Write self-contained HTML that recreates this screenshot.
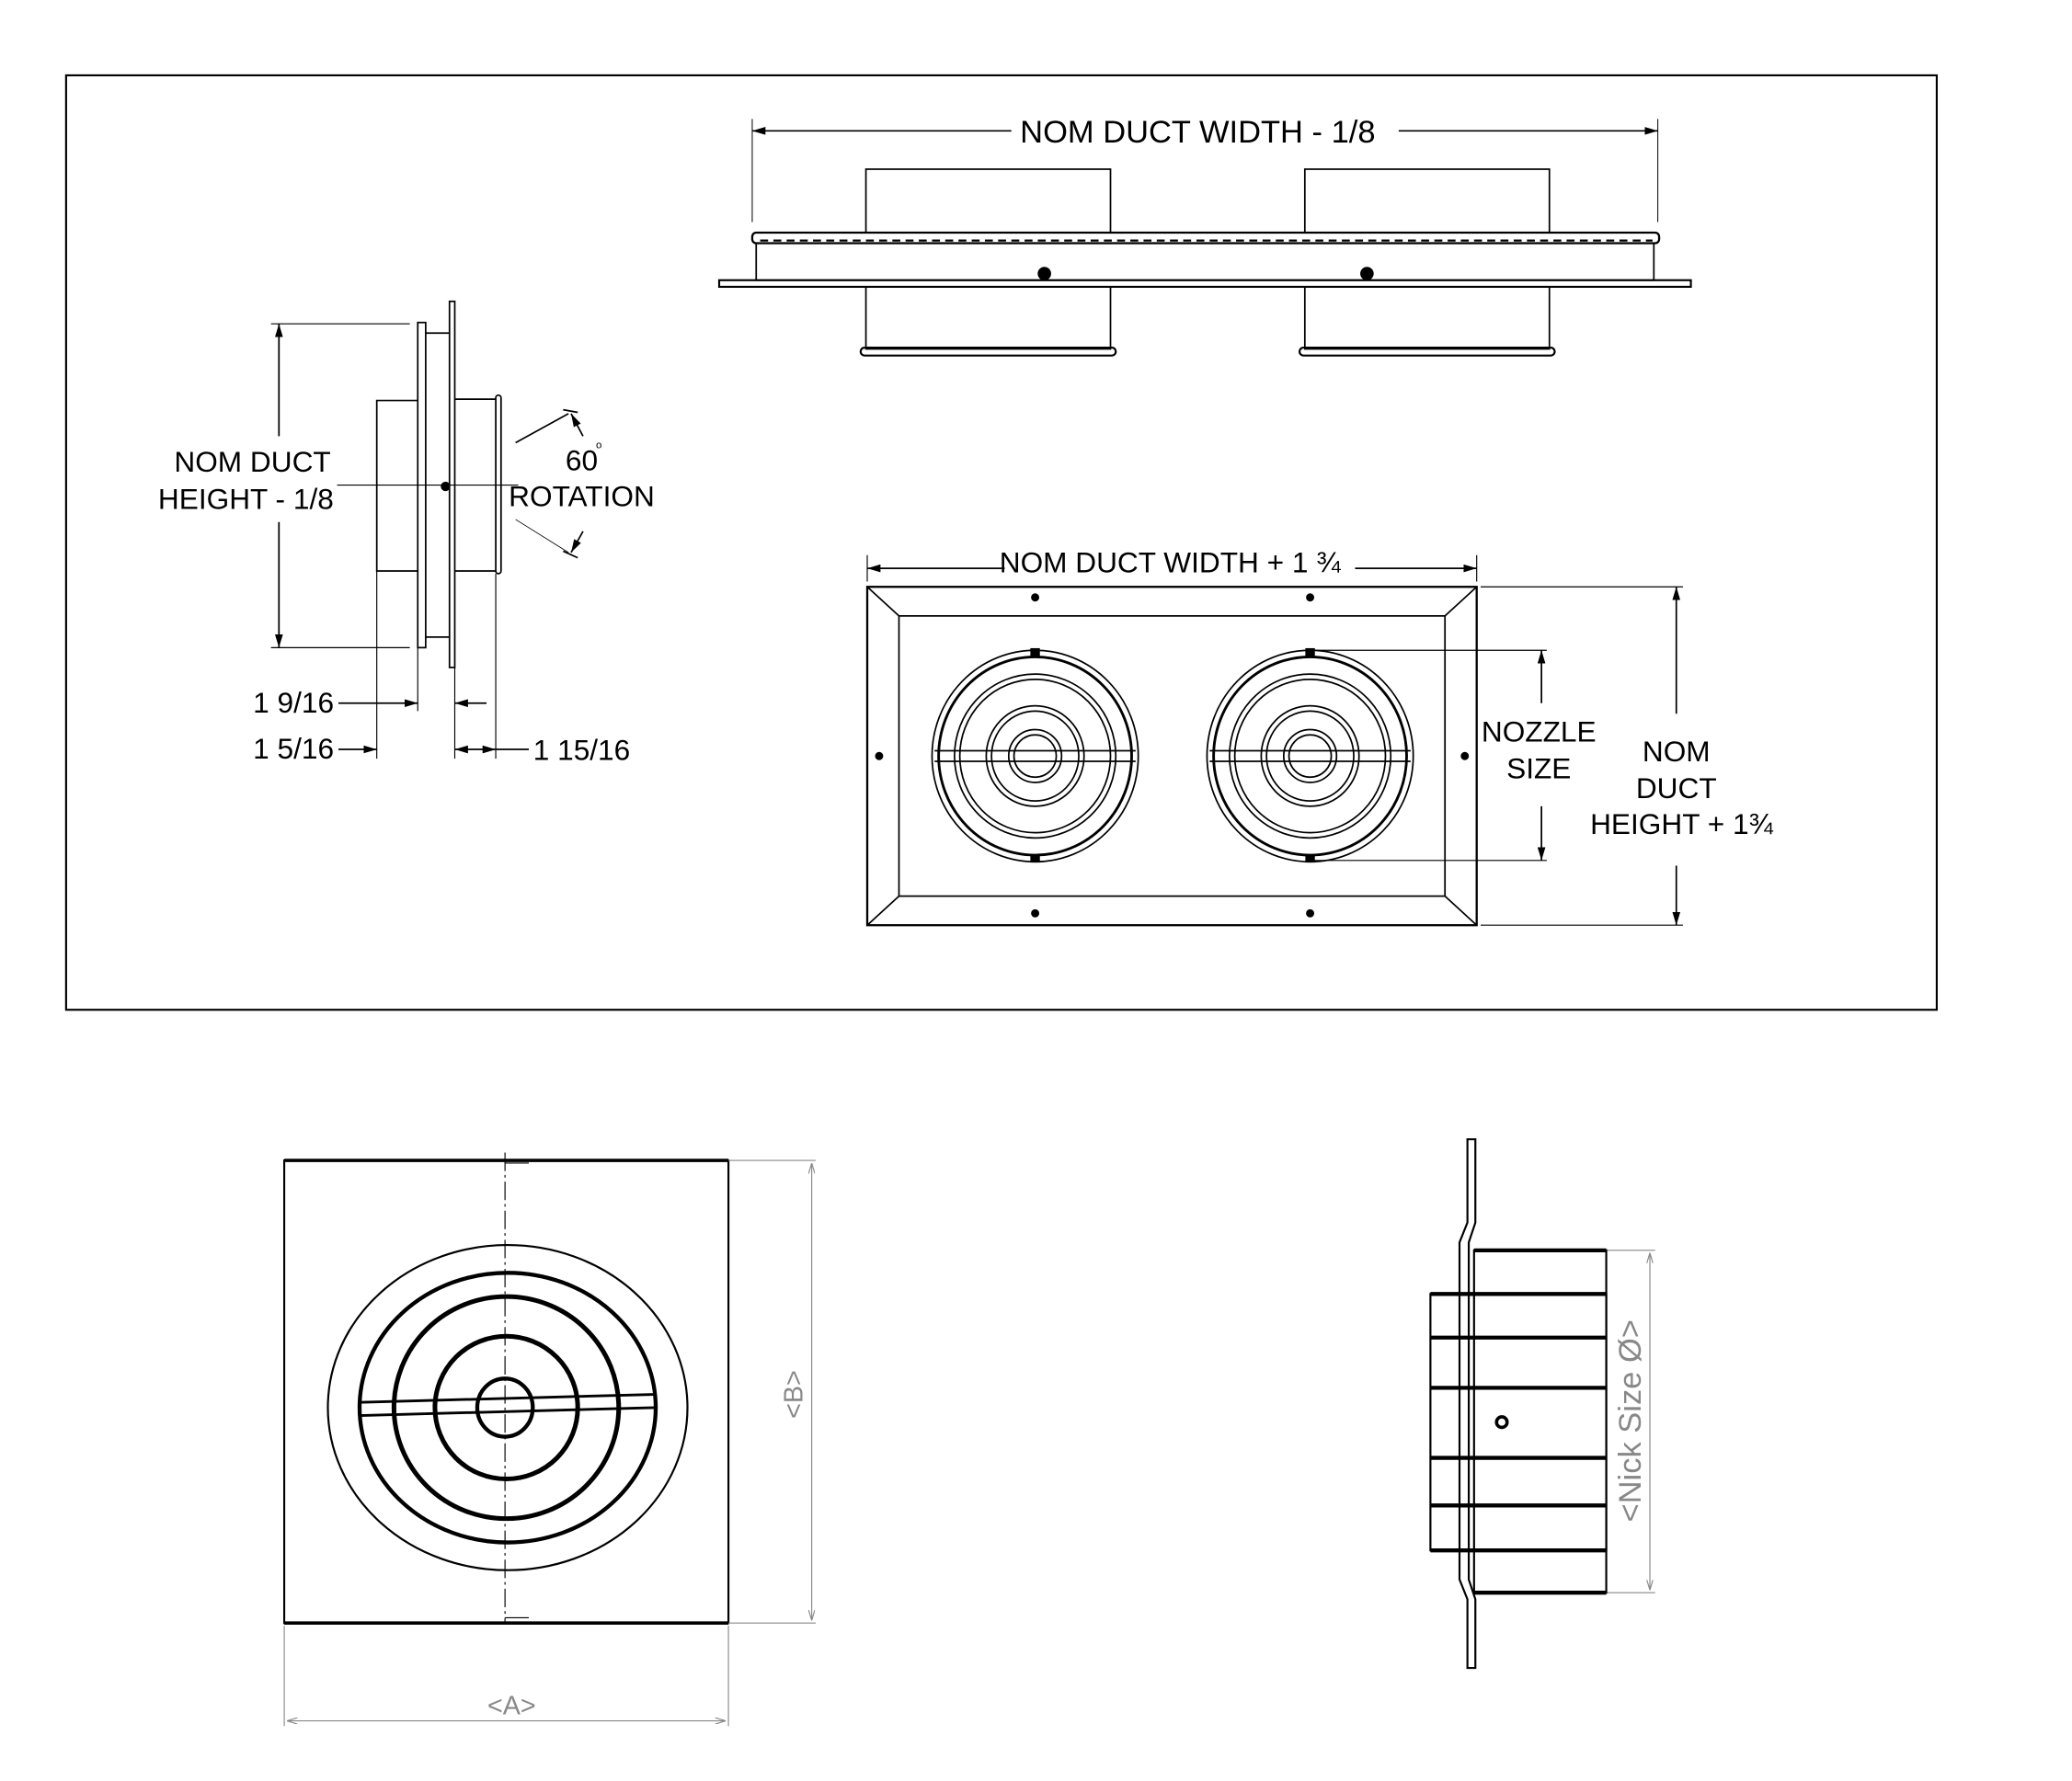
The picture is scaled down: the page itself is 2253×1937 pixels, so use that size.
<!DOCTYPE html>
<html><head><style>html,body{margin:0;padding:0;background:#fff}svg{display:block}</style></head><body>
<svg width="2253" height="1937" viewBox="0 0 1567.3 1347.5" preserveAspectRatio="none" xmlns="http://www.w3.org/2000/svg" font-family="Liberation Sans, sans-serif">
<defs>
<marker id="a" viewBox="0 0 10 6" refX="10" refY="3" markerWidth="10" markerHeight="6" orient="auto-start-reverse" markerUnits="userSpaceOnUse"><path d="M0,0 L10,3 L0,6 z" fill="#000"/></marker>
<marker id="g" viewBox="0 0 10 6" refX="10" refY="3" markerWidth="8" markerHeight="5" orient="auto-start-reverse" markerUnits="userSpaceOnUse"><path d="M0,0 L10,3 L0,6" fill="none" stroke="#888"/></marker>
</defs>
<g fill="none" stroke="#000" stroke-width="1.2">
<rect x="50" y="57" width="1415" height="707" stroke-width="1.5"/>
<line x1="569" y1="90" x2="569" y2="168" stroke-width="0.7"/><line x1="1254" y1="90" x2="1254" y2="168" stroke-width="0.7"/>
<line x1="569" y1="99" x2="765" y2="99" marker-start="url(#a)"/><line x1="1058" y1="99" x2="1254" y2="99" marker-end="url(#a)"/>
<rect x="655" y="128" width="185" height="48"/><rect x="987" y="128" width="185" height="48"/>
<rect x="569" y="176" width="686" height="8" rx="3" stroke-width="1.6"/>
<line x1="575" y1="182" x2="1250" y2="182" stroke-dasharray="6 4" stroke-width="1.5"/>
<rect x="572" y="184" width="679" height="28"/>
<rect x="544" y="212" width="735" height="5" stroke-width="1.5"/>
<rect x="655" y="217" width="185" height="47"/><rect x="987" y="217" width="185" height="47"/>
<rect x="651" y="263" width="193" height="6" rx="3" stroke-width="1.5"/><rect x="983" y="263" width="193" height="6" rx="3" stroke-width="1.5"/>
<rect x="340" y="228" width="4" height="277"/>
<rect x="316" y="244" width="6" height="246"/>
<line x1="322" y1="252" x2="340" y2="252"/><line x1="322" y1="482" x2="340" y2="482"/>
<polyline points="316,303 285,303 285,432 316,432"/>
<line x1="344" y1="302" x2="375" y2="302"/><line x1="344" y1="432" x2="375" y2="432"/>
<rect x="375" y="299" width="4" height="135" rx="2"/>
<line x1="255" y1="367" x2="392" y2="367" stroke-width="0.8"/>
<line x1="205" y1="245" x2="310" y2="245" stroke-width="0.8"/><line x1="205" y1="490" x2="310" y2="490" stroke-width="0.8"/>
<line x1="211" y1="245" x2="211" y2="330" marker-start="url(#a)"/><line x1="211" y1="395" x2="211" y2="490" marker-end="url(#a)"/>
<line x1="390" y1="335" x2="430" y2="313"/><line x1="426" y1="310" x2="437" y2="312"/><line x1="441" y1="330" x2="432" y2="313" marker-end="url(#a)"/>
<line x1="390" y1="393" x2="430" y2="418" stroke-width="0.6"/><line x1="426" y1="417" x2="437" y2="422"/><line x1="441" y1="402" x2="432" y2="418" marker-end="url(#a)"/>
<line x1="285" y1="432" x2="285" y2="574" stroke-width="0.8"/><line x1="316" y1="490" x2="316" y2="538" stroke-width="0.8"/>
<line x1="344" y1="505" x2="344" y2="574" stroke-width="0.8"/><line x1="375" y1="434" x2="375" y2="574" stroke-width="0.8"/>
<line x1="256" y1="532" x2="316" y2="532" marker-end="url(#a)"/><line x1="368" y1="532" x2="344" y2="532" marker-end="url(#a)"/>
<line x1="256" y1="567" x2="285" y2="567" marker-end="url(#a)"/>
<line x1="344" y1="567" x2="375" y2="567" marker-start="url(#a)" marker-end="url(#a)"/><line x1="375" y1="567" x2="400" y2="567"/>
<line x1="656" y1="420" x2="656" y2="440" stroke-width="0.8"/><line x1="1117" y1="420" x2="1117" y2="440" stroke-width="0.8"/>
<line x1="656" y1="430" x2="760" y2="430" marker-start="url(#a)"/><line x1="1025" y1="430" x2="1117" y2="430" marker-end="url(#a)"/>
<rect x="656" y="444" width="461" height="256" stroke-width="1.6"/>
<rect x="680" y="466" width="413" height="212"/>
<line x1="656" y1="444" x2="680" y2="466"/><line x1="1117" y1="444" x2="1093" y2="466"/><line x1="656" y1="700" x2="680" y2="678"/><line x1="1117" y1="700" x2="1093" y2="678"/>
<g id="n">
<ellipse cx="783" cy="572" rx="78" ry="80"/><ellipse cx="783" cy="572" rx="73" ry="75" stroke-width="2"/>
<ellipse cx="783" cy="572" rx="61" ry="62"/><ellipse cx="783" cy="572" rx="57" ry="58"/>
<ellipse cx="783" cy="572" rx="37" ry="38"/><ellipse cx="783" cy="572" rx="33" ry="34"/>
<ellipse cx="783" cy="572" rx="20" ry="20"/><ellipse cx="783" cy="572" rx="16" ry="16"/>
<line x1="707" y1="568" x2="859" y2="568"/><line x1="707" y1="576" x2="859" y2="576"/>
<rect x="780" y="491" width="6" height="5" fill="#000"/><rect x="780" y="647" width="6" height="5" fill="#000"/>
</g>
<use href="#n" x="208"/>
<g fill="#000"><circle cx="783" cy="452" r="2.5"/><circle cx="991" cy="452" r="2.5"/><circle cx="783" cy="691" r="2.5"/><circle cx="991" cy="691" r="2.5"/><circle cx="665" cy="572" r="2.5"/><circle cx="1108" cy="572" r="2.5"/><circle cx="790" cy="207" r="4.5"/><circle cx="1034" cy="207" r="4.5"/><circle cx="337" cy="368" r="3"/></g>
<line x1="991" y1="492" x2="1170" y2="492" stroke-width="0.8"/><line x1="991" y1="651" x2="1170" y2="651" stroke-width="0.8"/>
<line x1="1166" y1="532" x2="1166" y2="492" marker-end="url(#a)"/><line x1="1166" y1="610" x2="1166" y2="651" marker-end="url(#a)"/>
<line x1="1120" y1="444" x2="1273" y2="444" stroke-width="0.8"/><line x1="1120" y1="700" x2="1273" y2="700" stroke-width="0.8"/>
<line x1="1268" y1="540" x2="1268" y2="444" marker-end="url(#a)"/><line x1="1268" y1="655" x2="1268" y2="700" marker-end="url(#a)"/>
</g>
<g font-size="22" fill="#000" text-anchor="middle">
<text x="906" y="108" font-size="24">NOM DUCT WIDTH - 1/8</text>
<text x="191" y="357">NOM DUCT</text><text x="186" y="385">HEIGHT - 1/8</text>
<text x="440" y="356">60</text><text x="453" y="339" font-size="8">o</text><text x="440" y="383">ROTATION</text>
<text x="222" y="539">1 9/16</text><text x="222" y="574">1 5/16</text><text x="440" y="575">1 15/16</text>
<text x="885" y="433">NOM DUCT WIDTH + 1 ¾</text>
<text x="1164" y="561">NOZZLE</text><text x="1164" y="589">SIZE</text>
<text x="1268" y="576">NOM</text><text x="1268" y="604">DUCT</text><text x="1272" y="631">HEIGHT + 1¾</text>
</g>
<g fill="none" stroke="#000" stroke-width="1.5">
<rect x="215" y="878" width="336" height="350"/>
<line x1="215" y1="878" x2="551" y2="878" stroke-width="2.5"/><line x1="215" y1="1228" x2="551" y2="1228" stroke-width="2.5"/>
<line x1="382" y1="872" x2="382" y2="1228" stroke-width="0.8" stroke-dasharray="14 3 2 3"/>
<line x1="382" y1="880" x2="400" y2="880" stroke-width="0.8"/><line x1="382" y1="1224" x2="400" y2="1224" stroke-width="0.8"/>
<ellipse cx="384" cy="1065" rx="136" ry="123"/>
<ellipse cx="384" cy="1065" rx="112" ry="102" stroke-width="3"/>
<ellipse cx="383" cy="1065" rx="85" ry="84" stroke-width="3.5"/>
<ellipse cx="383" cy="1065" rx="54" ry="54" stroke-width="3.5"/>
<ellipse cx="382" cy="1065" rx="21" ry="22" stroke-width="3"/>
<line x1="272" y1="1061" x2="495" y2="1055" stroke-width="2"/><line x1="272" y1="1071" x2="495" y2="1065" stroke-width="2"/>
</g>
<g fill="none" stroke="#888" stroke-width="0.8">
<line x1="551" y1="878" x2="617" y2="878"/><line x1="551" y1="1228" x2="617" y2="1228"/>
<line x1="614" y1="880" x2="614" y2="1226" marker-start="url(#g)" marker-end="url(#g)"/>
<line x1="215" y1="1230" x2="215" y2="1306"/><line x1="551" y1="1230" x2="551" y2="1306"/>
<line x1="217" y1="1302" x2="549" y2="1302" marker-start="url(#g)" marker-end="url(#g)"/>
<line x1="1215" y1="946" x2="1252" y2="946"/><line x1="1215" y1="1205" x2="1252" y2="1205"/>
<line x1="1248" y1="948" x2="1248" y2="1203" marker-start="url(#g)" marker-end="url(#g)"/>
</g>
<g fill="#888" font-size="20" text-anchor="middle">
<text x="387" y="1297">&lt;A&gt;</text>
<text transform="translate(607,1055) rotate(-90)">&lt;B&gt;</text>
<text transform="translate(1241,1075) rotate(-90)" font-size="24">&lt;Nick Size Ø&gt;</text>
</g>
<g fill="none" stroke="#000" stroke-width="1.5">
<path d="M1110,862 L1110,925 L1104,940 L1104,1195 L1110,1210 L1110,1262 L1116,1262 L1116,1210 L1111,1195 L1111,940 L1116,925 L1116,862 Z"/>
<rect x="1115" y="946" width="100" height="259"/>
<rect x="1082" y="979" width="133" height="194"/>
<line x1="1115" y1="946" x2="1215" y2="946" stroke-width="3"/><line x1="1115" y1="1205" x2="1215" y2="1205" stroke-width="3"/>
<line x1="1082" y1="979" x2="1215" y2="979" stroke-width="3"/><line x1="1082" y1="1173" x2="1215" y2="1173" stroke-width="3"/>
<line x1="1082" y1="1012" x2="1215" y2="1012" stroke-width="3"/><line x1="1082" y1="1050" x2="1215" y2="1050" stroke-width="3"/>
<line x1="1082" y1="1103" x2="1215" y2="1103" stroke-width="3"/><line x1="1082" y1="1139" x2="1215" y2="1139" stroke-width="3"/>
<circle cx="1136" cy="1076" r="4" stroke-width="2.5"/>
</g>
</svg>
</body></html>
